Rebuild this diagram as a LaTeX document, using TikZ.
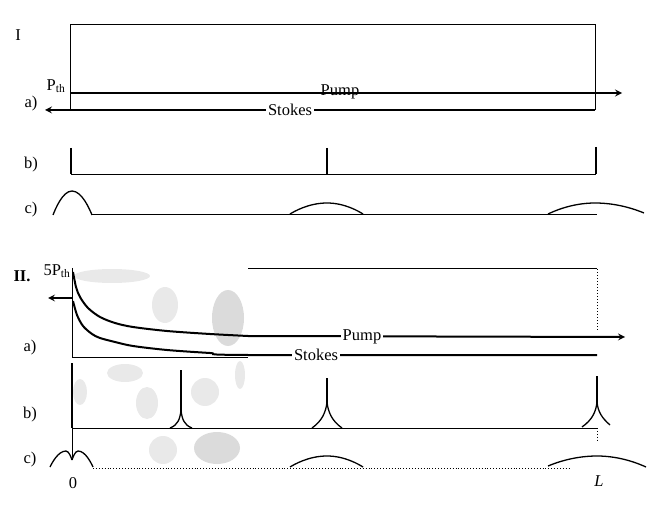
\documentclass[tikz,border=0pt]{standalone}
\usepackage{fontspec}
\setmainfont{Liberation Serif}
\usetikzlibrary{arrows.meta,positioning}

\begin{document}
\begin{tikzpicture}[
    x=1pt, y=-1pt,
    font=\fontsize{16.5}{19}\selectfont,
    lbl/.style={inner sep=1pt},
    tag/.style={inner sep=2pt, fill=white},
    frame/.style={line width=1pt},
    arr/.style={->, >=stealth, line width=2pt},
    beam/.style={line width=2pt},
    spike/.style={line width=1.7pt},
    hump/.style={line width=1.3pt},
    base/.style={line width=0.9pt},
    tache/.style={fill=gray!17, draw=none}
]
\useasboundingbox (0,0) rectangle (659,505);

% ---------- Partie I ----------
\node[lbl] (numI) at (18,35) {I};
\node[lbl] (pthI) at (56,86) {P\textsubscript{th}};
\node[lbl] (aI) at (31,104) {a)};
\node[lbl] (bI) at (31,165) {b)};
\node[lbl] (cI) at (31,210) {c)};

% cadre
\coordinate (tlI) at (70,25);
\coordinate (trI) at (595,25);
\coordinate (blI) at (70,110);
\coordinate (brI) at (595,110);
\draw[frame] (blI) -- (tlI) -- (trI) -- (brI);

% pompe et Stokes
\coordinate (p0I) at (70,93);
\coordinate (p1I) at (622,93);
\draw[arr] (p0I) -- (p1I);
\node[lbl] (pumpI) at (340,92) {Pump};
\coordinate (s1I) at (45,110);
\draw[arr] (brI) -- (s1I);
\node[tag] (stokesI) at (290,110) {Stokes};

% b)
\draw[base] (71,174) -- (596,174);
\draw[spike] (71,148) -- (71,174);
\draw[spike] (327,148) -- (327,174);
\draw[spike] (596,147) -- (596,174);

% c)
\draw[base] (92,214) -- (597,214);
\draw[hump] (53,215) parabola bend (72,191) (92,215);
\draw[hump] (290,214) parabola bend (327,203) (363,214);
\draw[hump] (548,214) parabola bend (595,203) (644,213);

% ---------- Partie II ----------
% taches grises
\fill[tache] (112,276) ellipse [x radius=38, y radius=7];
\fill[tache] (165,305) ellipse [x radius=13, y radius=18];
\fill[tache, fill=gray!28] (228,318) ellipse [x radius=16, y radius=28];
\fill[tache] (125,373) ellipse [x radius=18, y radius=9];
\fill[tache] (80,392) ellipse [x radius=7, y radius=13];
\fill[tache] (147,403) ellipse [x radius=11, y radius=16];
\fill[tache] (205,392) ellipse [x radius=14, y radius=14];
\fill[tache] (240,375) ellipse [x radius=5, y radius=14];
\fill[tache] (163,450) ellipse [x radius=14, y radius=14];
\fill[tache, fill=gray!28] (217,448) ellipse [x radius=23, y radius=16];

\node[lbl, font=\fontsize{16.5}{19}\selectfont\bfseries] (numII) at (22,276) {II.};
\node[lbl] (pthII) at (57,271) {5P\textsubscript{th}};
\node[lbl] (aII) at (30,348) {a)};
\node[lbl] (bII) at (30,415) {b)};
\node[lbl] (cII) at (30,460) {c)};

% cadre
\coordinate (tlII) at (72,268);
\coordinate (blII) at (72,357);
\coordinate (tmII) at (248,269);
\coordinate (trII) at (597,269);
\coordinate (rmII) at (597,330);
\draw[frame] (tlII) -- (blII) -- (248,357);
\draw[frame] (tmII) -- (trII);
\draw[frame, dotted] (trII) -- (rmII);

% pompe
\coordinate (p1II) at (625,337);
\draw[beam] plot[smooth] coordinates {(73,272) (76,287) (80,297) (88,308)
    (100,317) (115,323) (133,327) (167,331) (210,334) (248,336)};
\draw[arr] (248,336) -- (p1II);
\node[tag] (pumpII) at (362,337) {Pump};

% Stokes
\coordinate (s0II) at (72,298);
\coordinate (s1II) at (48,298);
\draw[arr] (s0II) -- (s1II);
\draw[beam] plot[smooth] coordinates {(73,301) (77,315) (83,326) (92,334)
    (100,338) (115,342) (133,346) (167,350) (210,353) (248,355) (597,355)};
\node[tag] (stokesII) at (316,355) {Stokes};

% b)
\draw[base] (72,428) -- (597,428);
\draw[spike] (72,363) -- (72,428);
\draw[base] (72,428) -- (72,457);
\draw[spike] (181,370) -- (181,411);
\draw[hump] (170,428) .. controls (178,425) and (180,419) .. (181,410)
    .. controls (182,419) and (184,425) .. (192,428);
\draw[spike] (327,378) -- (327,403);
\draw[hump] (312,428) .. controls (322,421) and (326,412) .. (327,402)
    .. controls (328,412) and (332,421) .. (342,428);
\draw[spike] (597,376) -- (597,403);
\draw[hump] (582,427) .. controls (592,420) and (596,412) .. (597,402)
    .. controls (598,412) and (602,418) .. (610,425);
\draw[base, dotted] (597,428) -- (597,440);

% c)
\draw[base, dotted] (93,468) -- (570,468);
\draw[hump] (50,467) parabola bend (66,451) (72,460);
\draw[hump] (72,460) parabola bend (78,451) (93,467);
\draw[hump] (290,467) parabola bend (327,456) (363,467);
\draw[hump] (548,466) parabola bend (597,456) (646,467);

\node[lbl] (zero) at (73,483) {0};
\node[lbl, font=\fontsize{16.5}{19}\selectfont\itshape] (longL) at (599,481) {L};
\end{tikzpicture}
\end{document}
